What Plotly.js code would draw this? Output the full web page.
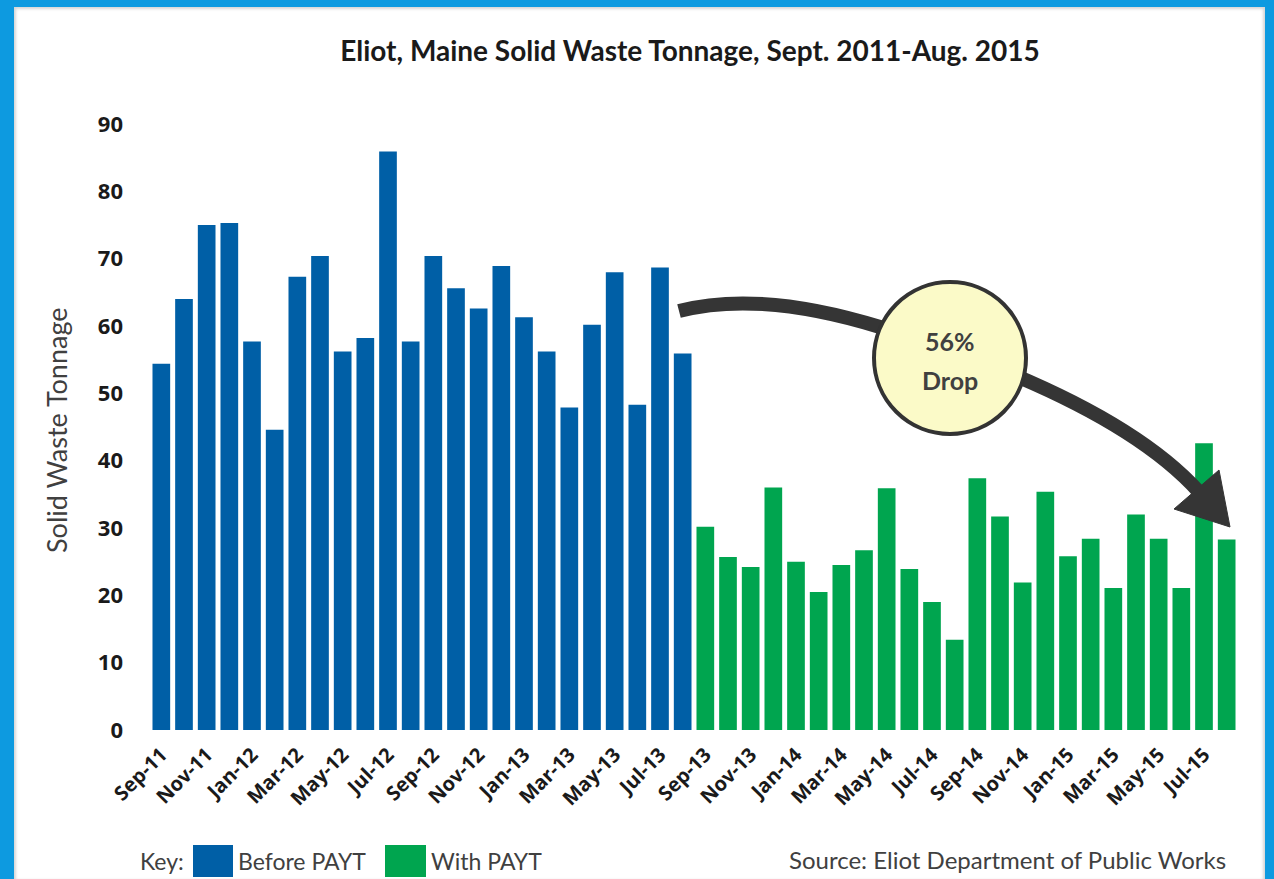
<!DOCTYPE html>
<html><head><meta charset="utf-8">
<script src="https://cdn.plot.ly/plotly-3.0.1.min.js"></script>
<style>
html,body{margin:0;padding:0;background:#0d9ae0;width:1274px;height:879px;overflow:hidden}
#frame{position:absolute;left:14px;top:7px;width:1251px;height:872px;background:#fff;
  box-shadow: inset 3px 3px 3px -1px #d6d6d6, inset -3px 0 3px -1px #d6d6d6;}
#chart{position:absolute;left:0;top:0;width:1251px;height:872px}
</style></head><body>
<div id="frame"><div id="chart"></div></div>
<script>
// ---- data ----
const beforeMonths = ['Sep-11','Oct-11','Nov-11','Dec-11','Jan-12','Feb-12','Mar-12','Apr-12','May-12','Jun-12','Jul-12','Aug-12',
                      'Sep-12','Oct-12','Nov-12','Dec-12','Jan-13','Feb-13','Mar-13','Apr-13','May-13','Jun-13','Jul-13','Aug-13'];
const beforeTons = [54.4,64.0,75.0,75.3,57.7,44.6,67.3,70.4,56.2,58.2,85.9,57.7,
                    70.4,65.6,62.6,68.9,61.3,56.2,47.9,60.2,68.0,48.3,68.7,55.9];
const afterMonths = ['Sep-13','Oct-13','Nov-13','Dec-13','Jan-14','Feb-14','Mar-14','Apr-14','May-14','Jun-14','Jul-14','Aug-14',
                     'Sep-14','Oct-14','Nov-14','Dec-14','Jan-15','Feb-15','Mar-15','Apr-15','May-15','Jun-15','Jul-15','Aug-15'];
const afterTons = [30.2,25.7,24.2,36.0,25.0,20.5,24.5,26.7,35.9,23.9,19.0,13.4,
                   37.4,31.7,21.9,35.4,25.8,28.4,21.1,32.0,28.4,21.1,42.6,28.3];
const tickLabels = ['Sep-11','Nov-11','Jan-12','Mar-12','May-12','Jul-12','Sep-12','Nov-12','Jan-13','Mar-13','May-13','Jul-13',
                    'Sep-13','Nov-13','Jan-14','Mar-14','May-14','Jul-14','Sep-14','Nov-14','Jan-15','Mar-15','May-15','Jul-15'];
const yTicks = [0,10,20,30,40,50,60,70,80,90];
const seriesNames = ['Before PAYT','With PAYT'];
const titleText = 'Eliot, Maine Solid Waste Tonnage, Sept. 2011-Aug. 2015';
const yTitle = 'Solid Waste Tonnage';
const sourceText = 'Source: Eliot Department of Public Works';
const dropText = ['56%','Drop'];

// ---- geometry helpers (page pixels -> paper) ----
const W = 1251, H = 872, OX = 14, OY = 7;
const L = 150, R = 1238, T = 124, B = 730;
const X = px => (px - L) / (R - L);
const Y = py => (B - py) / (B - T);

const BLUE = '#005fa6', GREEN = '#00a54f';
const CAL = 'Lato, "Open Sans", sans-serif';
const BOLD = '"Open Sans", Lato, sans-serif';

const traces = [
  {type:'bar', name:seriesNames[0], x:beforeMonths, y:beforeTons, marker:{color:BLUE}, hoverinfo:'x+y'},
  {type:'bar', name:seriesNames[1], x:afterMonths, y:afterTons, marker:{color:GREEN}, hoverinfo:'x+y'}
];

const arrowColor = '#353535';
const shapes = [
  {type:'path', xref:'paper', yref:'paper', layer:'above',
   path:`M ${X(679)},${Y(311)} Q ${X(760)},${Y(290)} ${X(880)},${Y(327)} Q ${X(1116)},${Y(400)} ${X(1199)},${Y(492)}`,
   line:{color:arrowColor, width:14}, fillcolor:'rgba(0,0,0,0)'},
  {type:'path', xref:'paper', yref:'paper', layer:'above',
   path:`M ${X(1230)},${Y(527)} L ${X(1174)},${Y(509)} L ${X(1219)},${Y(470)} Z`,
   line:{color:arrowColor, width:1}, fillcolor:arrowColor},
  {type:'circle', xref:'paper', yref:'paper', layer:'above',
   x0:X(874), x1:X(1026), y0:Y(434), y1:Y(282),
   line:{color:'#333333', width:4}, fillcolor:'#fbfac8'},
  // legend key swatches
  {type:'rect', xref:'paper', yref:'paper', x0:X(193), x1:X(233), y0:Y(877), y1:Y(845), line:{width:0}, fillcolor:BLUE},
  {type:'rect', xref:'paper', yref:'paper', x0:X(385), x1:X(426), y0:Y(877), y1:Y(845), line:{width:0}, fillcolor:GREEN}
];

const grayFont = (s) => ({family:CAL, size:s, color:'#404040'});
const annotations = [
  {xref:'paper', yref:'paper', x:X(56), y:Y(430), text:yTitle, textangle:-90, showarrow:false,
   xanchor:'center', yanchor:'middle', font:grayFont(27)},
  {xref:'paper', yref:'paper', x:X(950), y:Y(341), text:dropText[0], showarrow:false,
   xanchor:'center', yanchor:'middle', font:{family:CAL, size:25, color:'#404040', weight:'bold'}},
  {xref:'paper', yref:'paper', x:X(950), y:Y(380), text:dropText[1], showarrow:false,
   xanchor:'center', yanchor:'middle', font:{family:CAL, size:25, color:'#404040', weight:'bold'}},
  {xref:'paper', yref:'paper', x:X(138), y:Y(861), text:'Key:', showarrow:false,
   xanchor:'left', yanchor:'middle', font:grayFont(23)},
  {xref:'paper', yref:'paper', x:X(236), y:Y(861), text:seriesNames[0], showarrow:false,
   xanchor:'left', yanchor:'middle', font:grayFont(23)},
  {xref:'paper', yref:'paper', x:X(429), y:Y(861), text:seriesNames[1], showarrow:false,
   xanchor:'left', yanchor:'middle', font:grayFont(23)},
  {xref:'paper', yref:'paper', x:X(1228), y:Y(859), text:sourceText, showarrow:false,
   xanchor:'right', yanchor:'middle', font:grayFont(24)}
];

const layout = {
  width:W, height:H,
  margin:{l:L-OX, r:W-(R-OX), t:T-OY, b:H-(B-OY), pad:0},
  paper_bgcolor:'rgba(0,0,0,0)', plot_bgcolor:'rgba(0,0,0,0)',
  showlegend:false,
  barmode:'overlay', bargap:0.22,
  title:{text:titleText, xref:'container', yref:'container', x:(690-OX)/W, y:1-(51-OY)/H,
         xanchor:'center', yanchor:'middle', font:{family:CAL, size:28, color:'#1a1a1a', weight:'bold'}},
  xaxis:{type:'category', tickvals:tickLabels, ticktext:tickLabels, tickangle:-45,
         showgrid:false, zeroline:false, showline:false, ticks:'',
         ticklabelstandoff:8,
         tickfont:{family:BOLD, size:20, color:'#1a1a1a', weight:'bold'}},
  yaxis:{range:[0,90], tickvals:yTicks, showgrid:false, zeroline:false, showline:false, ticks:'',
         ticklabelstandoff:26,
         tickfont:{family:BOLD, size:22, color:'#1a1a1a', weight:'bold'}},
  shapes:shapes,
  annotations:annotations
};

Plotly.newPlot('chart', traces, layout, {displayModeBar:false, staticPlot:true});
</script>
</body></html>
